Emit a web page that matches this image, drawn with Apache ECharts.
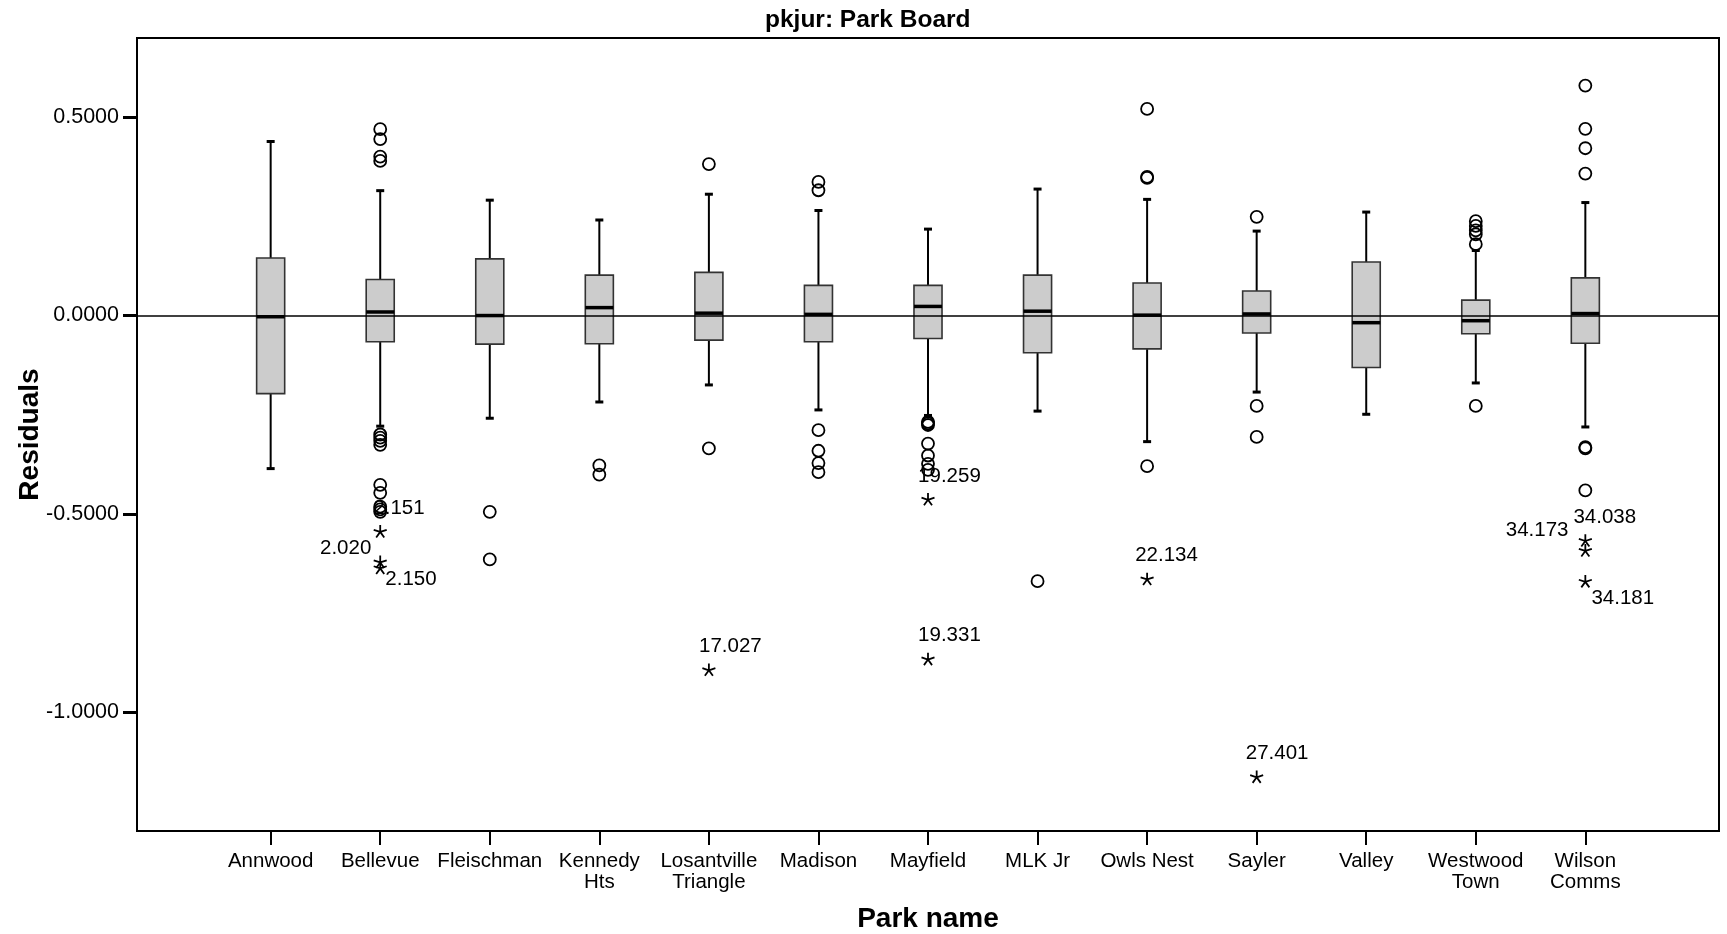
<!DOCTYPE html>
<html>
<head>
<meta charset="utf-8">
<script src="https://cdn.jsdelivr.net/npm/echarts@6/dist/echarts.min.js"></script>
<style>
  html, body { margin: 0; padding: 0; background: #fff; }
  #chart { width: 1727px; height: 934px; }
</style>
</head>
<body>
<div id="chart"></div>
<script>
// ---- Data ----
const categories = ['Annwood', 'Bellevue', 'Fleischman', 'Kennedy\nHts', 'Losantville\nTriangle',
  'Madison', 'Mayfield', 'MLK Jr', 'Owls Nest', 'Sayler', 'Valley', 'Westwood\nTown', 'Wilson\nComms'];

const lowerWhisker = [-0.386, -0.279, -0.259, -0.218, -0.175, -0.238, -0.252, -0.241, -0.318, -0.193, -0.249, -0.170, -0.281];
const q1           = [-0.197, -0.066, -0.072, -0.071, -0.062, -0.066, -0.058, -0.094, -0.084, -0.044, -0.131, -0.046, -0.070];
const median       = [-0.003,  0.009,  0.000,  0.020,  0.006,  0.003,  0.023,  0.011,  0.001,  0.004, -0.018, -0.013,  0.005];
const q3           = [ 0.145,  0.091,  0.143,  0.102,  0.109,  0.076,  0.076,  0.102,  0.082,  0.062,  0.135,  0.039,  0.095];
const upperWhisker = [ 0.439,  0.315,  0.291,  0.241,  0.306,  0.265,  0.218,  0.319,  0.293,  0.213,  0.261,  0.164,  0.285];

// outliers (circles): [category index, residual]
const outliers = [
  [1, 0.470], [1, 0.445], [1, 0.401], [1, 0.390],
  [1, -0.300], [1, -0.308], [1, -0.316], [1, -0.326],
  [1, -0.427], [1, -0.447], [1, -0.482], [1, -0.489], [1, -0.495],
  [2, -0.495], [2, -0.615],
  [3, -0.378], [3, -0.401],
  [4, 0.382], [4, -0.335],
  [5, 0.337], [5, 0.316], [5, -0.289], [5, -0.341], [5, -0.372], [5, -0.395],
  [6, -0.268], [6, -0.272], [6, -0.276], [6, -0.323], [6, -0.353], [6, -0.374], [6, -0.389],
  [7, -0.670],
  [8, 0.521], [8, 0.350], [8, 0.347], [8, -0.380],
  [9, 0.249], [9, -0.228], [9, -0.306],
  [11, 0.238], [11, 0.226], [11, 0.215], [11, 0.205], [11, 0.180], [11, -0.228],
  [12, 0.580], [12, 0.471], [12, 0.422], [12, 0.358], [12, -0.332], [12, -0.335], [12, -0.441]
];

// extremes (stars): [category index, residual, case label]
const extremes = [
  [1, -0.544, '2.151'], [1, -0.621, '2.020'], [1, -0.636, '2.150'],
  [4, -0.893, '17.027'],
  [6, -0.463, '19.259'], [6, -0.866, '19.331'],
  [8, -0.664, '22.134'],
  [9, -1.163, '27.401'],
  [12, -0.567, '34.038'], [12, -0.592, '34.173'], [12, -0.670, '34.181']
];

const yTicks = [-1.0, -0.5, 0.0, 0.5];

// ---- Label placement relative to the star centre (style, kept apart from data) ----
const labelPlacement = {
  '2.151': [-6, -22, 'left'], '2.020': [-8, -13, 'right'], '2.150': [6, 12, 'left'],
  '17.027': [-9, -23, 'left'], '19.259': [-9, -22, 'left'], '19.331': [-9, -23, 'left'],
  '22.134': [-11, -23, 'left'], '27.401': [-10, -23, 'left'],
  '34.038': [-11, -22, 'left'], '34.173': [-16, -19, 'right'], '34.181': [7, 18, 'left']
};

const FONT = 'Liberation Sans, Arial, Helvetica, sans-serif';
const STAR_SIZE = 13;
const catIdx = categories.map((c, i) => i);
const boxData = categories.map((c, i) => [i, lowerWhisker[i], q1[i], median[i], q3[i], upperWhisker[i]]);

const asterisk = 'path://M0 0L0 -10M0 0L9.51 -3.09M0 0L5.88 8.09M0 0L-5.88 8.09M0 0L-9.51 -3.09';

const chart = echarts.init(document.getElementById('chart'), null, { renderer: 'canvas' });

const option = {
  backgroundColor: '#fff',
  animation: false,
  textStyle: { fontFamily: FONT },
  title: {
    text: 'pkjur: Park Board',
    left: 765, top: 8, padding: 0,
    textStyle: { fontFamily: FONT, fontSize: 24.5, fontWeight: 'bold', color: '#000' }
  },
  grid: {
    left: 137, right: 8, top: 38, bottom: 103,
    outerBoundsMode: 'none',
    containLabel: false,
    show: true, borderColor: '#000', borderWidth: 2, backgroundColor: 'transparent'
  },
  xAxis: {
    type: 'value', min: -1.22, max: 13.22,
    position: 'bottom',
    axisLine: { show: false, onZero: false },
    splitLine: { show: false },
    axisTick: { show: true, inside: false, length: 14, customValues: catIdx, lineStyle: { color: '#000', width: 2 } },
    axisLabel: {
      show: true, customValues: catIdx, margin: 20,
      formatter: v => categories[Math.round(v)] || '',
      fontFamily: FONT, fontSize: 20.5, lineHeight: 21, color: '#000'
    },
    name: 'Park name', nameLocation: 'middle', nameGap: 74,
    nameMoveOverlap: false,
    nameTextStyle: { fontFamily: FONT, fontSize: 28, fontWeight: 'bold', color: '#000' }
  },
  yAxis: {
    type: 'value', min: -1.3, max: 0.7,
    position: 'left',
    axisLine: { show: false, onZero: false },
    splitLine: { show: false },
    axisTick: { show: true, inside: false, length: 14, customValues: yTicks, lineStyle: { color: '#000', width: 3 } },
    axisLabel: {
      show: true, customValues: yTicks, margin: 18,
      formatter: v => v.toFixed(4),
      fontFamily: FONT, fontSize: 21.5, color: '#000'
    },
    name: 'Residuals', nameLocation: 'middle', nameGap: 93, nameRotate: 90,
    nameMoveOverlap: false,
    nameTextStyle: { fontFamily: FONT, fontSize: 28, fontWeight: 'bold', color: '#000' }
  },
  series: [
    {
      type: 'custom',
      name: 'boxes',
      data: boxData,
      encode: { x: 0, y: [1, 2, 3, 4, 5] },
      z: 2,
      silent: true,
      renderItem: function (params, api) {
        const i = api.value(0);
        const x = api.coord([i, 0])[0];
        const yLo = api.coord([i, api.value(1)])[1];
        const yQ1 = api.coord([i, api.value(2)])[1];
        const yMed = api.coord([i, api.value(3)])[1];
        const yQ3 = api.coord([i, api.value(4)])[1];
        const yHi = api.coord([i, api.value(5)])[1];
        const w = api.size([1, 0])[0] * 0.256;
        const cap = 4;
        const ls = { stroke: '#000', lineWidth: 2 };
        return {
          type: 'group',
          children: [
            { type: 'line', shape: { x1: x, y1: yQ3, x2: x, y2: yHi }, style: ls },
            { type: 'line', shape: { x1: x, y1: yQ1, x2: x, y2: yLo }, style: ls },
            { type: 'line', shape: { x1: x - cap, y1: yHi, x2: x + cap, y2: yHi }, style: { stroke: '#000', lineWidth: 3 } },
            { type: 'line', shape: { x1: x - cap, y1: yLo, x2: x + cap, y2: yLo }, style: { stroke: '#000', lineWidth: 3 } },
            { type: 'rect', shape: { x: x - w / 2, y: yQ3, width: w, height: yQ1 - yQ3 },
              style: { fill: '#cccccc', stroke: '#333333', lineWidth: 1.6 } },
            { type: 'line', shape: { x1: x - w / 2, y1: yMed, x2: x + w / 2, y2: yMed },
              style: { stroke: '#000', lineWidth: 3.5 } }
          ]
        };
      }
    },
    {
      type: 'scatter',
      name: 'outliers',
      data: outliers,
      symbol: 'circle',
      symbolSize: 12,
      z: 3,
      silent: true,
      itemStyle: { color: 'rgba(0,0,0,0)', borderColor: '#000', borderWidth: 1.8, opacity: 1 },
      markLine: {
        silent: true,
        symbol: 'none',
        label: { show: false },
        lineStyle: { color: '#000', width: 1.5, type: 'solid' },
        data: [{ yAxis: 0 }],
        z: 5
      }
    },
    {
      type: 'scatter',
      name: 'extremes',
      data: extremes.map(e => {
        const p = labelPlacement[e[2]] || [-10, -23, 'left'];
        return {
          value: [e[0], e[1]],
          name: e[2],
          label: {
            position: [STAR_SIZE / 2 + p[0], STAR_SIZE / 2 + p[1]],
            align: p[2],
            verticalAlign: 'middle'
          }
        };
      }),
      symbol: asterisk,
      symbolSize: STAR_SIZE,
      symbolKeepAspect: true,
      z: 4,
      silent: true,
      itemStyle: { color: '#000', borderColor: '#000', borderWidth: 1.8, opacity: 1 },
      label: {
        show: true,
        formatter: p => p.name,
        fontFamily: FONT, fontSize: 20.5, color: '#000'
      },
      labelLayout: { hideOverlap: false }
    }
  ]
};

chart.setOption(option);
</script>
</body>
</html>
